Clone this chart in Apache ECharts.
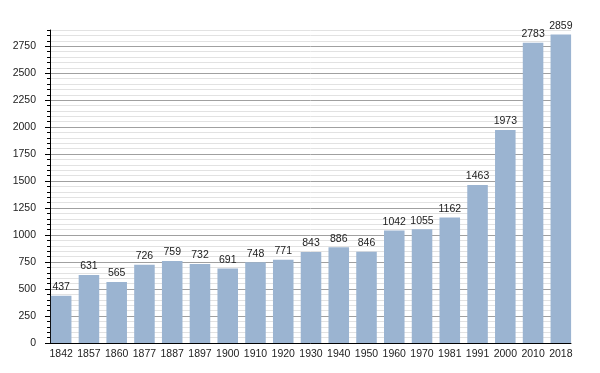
<!DOCTYPE html>
<html><head><meta charset="utf-8">
<script src="https://cdn.jsdelivr.net/npm/echarts@6/dist/echarts.min.js"></script>
<style>html,body{margin:0;padding:0;background:#fff}#c{width:600px;height:373px}</style>
</head><body><div id="c"></div>
<script>
var years = ['1842','1857','1860','1877','1887','1897','1900','1910','1920','1930','1940','1950','1960','1970','1981','1991','2000','2010','2018'];
var population = [437,631,565,726,759,732,691,748,771,843,886,846,1042,1055,1162,1463,1973,2783,2859];
var yMax = 2900, minorStep = 50, majorStep = 250;
var font = 'Liberation Sans, Arial, sans-serif';
var chart = echarts.init(document.getElementById('c'));
chart.setOption({
  animation:false,
  grid:[
    {left:47.3,right:25.3,top:30,bottom:30,containLabel:false},
    {left:50,right:29,top:30,bottom:30,containLabel:false}
  ],
  xAxis:[
    {type:'category',data:years,gridIndex:0,
      axisLine:{show:false},axisTick:{show:false},splitLine:{show:false},
      axisLabel:{color:'#222',fontSize:10.5,fontFamily:font,margin:6,interval:0}},
    {type:'category',data:years,gridIndex:1,
      axisLine:{show:true,lineStyle:{color:'#000',width:1}},
      axisTick:{show:false},axisLabel:{show:false},splitLine:{show:false}}
  ],
  yAxis:[
    {type:'value',gridIndex:0,min:0,max:yMax,show:false,splitLine:{show:false}},
    {type:'value',gridIndex:1,min:0,max:yMax,interval:minorStep,position:'left',
      axisLine:{show:true,lineStyle:{color:'#000'}},
      axisTick:{show:true,length:3,lineStyle:{color:'#000'}},
      axisLabel:{show:false},
      splitLine:{show:true,lineStyle:{color:['#a0a0a0','#e2e2e2','#e2e2e2','#e2e2e2','#e2e2e2'],width:1}}},
    {type:'value',gridIndex:1,min:0,max:yMax,interval:majorStep,position:'left',
      axisLine:{show:false},
      axisTick:{show:true,length:5,lineStyle:{color:'#000'}},
      axisLabel:{color:'#222',fontSize:10.5,fontFamily:font,margin:14,showMaxLabel:false,
        formatter:function(v){return String(v);}},
      splitLine:{show:false}}
  ],
  series:[{type:'bar',xAxisIndex:0,yAxisIndex:0,data:population,barCategoryGap:'26%',
    itemStyle:{color:'#9bb4d1'},
    label:{show:true,position:'top',distance:3,color:'#222',fontSize:10.5,fontFamily:font}}]
});
</script></body></html>
